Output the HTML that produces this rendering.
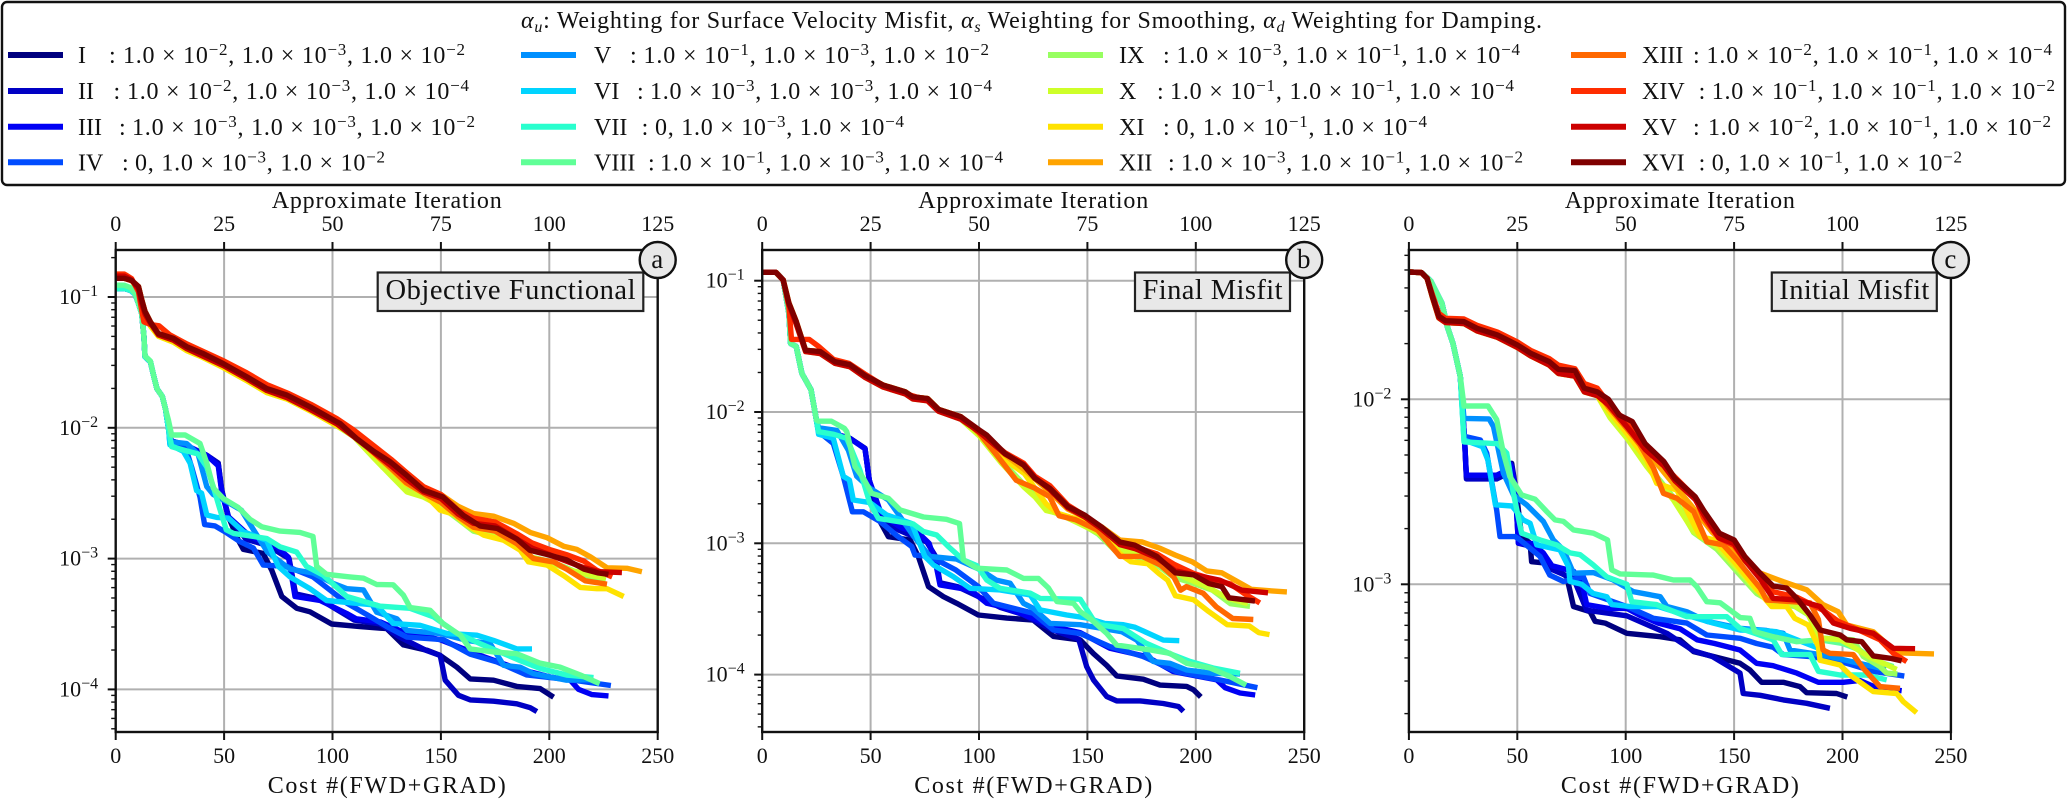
<!DOCTYPE html>
<html lang="en">
<head>
<meta charset="utf-8">
<title>Cost convergence for weighting combinations</title>
<style>
html,body{margin:0;padding:0;background:#fff;}
svg{display:block;}
text{font-family:"Liberation Serif",serif;fill:#111;}
</style>
</head>
<body>
<svg id="figure" xmlns="http://www.w3.org/2000/svg" width="2067" height="800" viewBox="0 0 2067 800"></svg>
<script>
// Tick values and labels
const costTicks = [0, 50, 100, 150, 200, 250];
const iterationTicks = [0, 25, 50, 75, 100, 125];
const romanLabels = ['I','II','III','IV','V','VI','VII','VIII','IX','X','XI','XII','XIII','XIV','XV','XVI'];
const weightLabels = [
 '1.0 × 10^{−2}, 1.0 × 10^{−3}, 1.0 × 10^{−2}','1.0 × 10^{−2}, 1.0 × 10^{−3}, 1.0 × 10^{−4}',
 '1.0 × 10^{−3}, 1.0 × 10^{−3}, 1.0 × 10^{−2}','0, 1.0 × 10^{−3}, 1.0 × 10^{−2}',
 '1.0 × 10^{−1}, 1.0 × 10^{−3}, 1.0 × 10^{−2}','1.0 × 10^{−3}, 1.0 × 10^{−3}, 1.0 × 10^{−4}',
 '0, 1.0 × 10^{−3}, 1.0 × 10^{−4}','1.0 × 10^{−1}, 1.0 × 10^{−3}, 1.0 × 10^{−4}',
 '1.0 × 10^{−3}, 1.0 × 10^{−1}, 1.0 × 10^{−4}','1.0 × 10^{−1}, 1.0 × 10^{−1}, 1.0 × 10^{−4}',
 '0, 1.0 × 10^{−1}, 1.0 × 10^{−4}','1.0 × 10^{−3}, 1.0 × 10^{−1}, 1.0 × 10^{−2}',
 '1.0 × 10^{−2}, 1.0 × 10^{−1}, 1.0 × 10^{−4}','1.0 × 10^{−1}, 1.0 × 10^{−1}, 1.0 × 10^{−2}',
 '1.0 × 10^{−2}, 1.0 × 10^{−1}, 1.0 × 10^{−2}','0, 1.0 × 10^{−1}, 1.0 × 10^{−2}'];
const seriesColors = ['#00007f','#0000c4','#0000f4','#004cff','#0090ff','#00d4ff','#29ffce','#60ff97','#97ff60','#ceff29','#ffe200','#ffa400','#ff6800','#ff2d00','#cc0000','#7f0000'];

// Each series point is [cost, log10(value)]
// ---- Panel a: Objective Functional ----
const blueHeadA = [[0,-0.935],[4,-0.935],[7,-0.95],[9,-0.98],[10.5,-1.05],[12,-1.125],[13,-1.3],[13.5,-1.457],[16,-1.495],[17.5,-1.6],[19,-1.7],[21.5,-1.76],[23,-1.86],[24.5,-2.02]];
const redHeadA = [[0,-0.857],[4,-0.857],[7.4,-0.875],[10.5,-0.92],[12,-1.02],[13.5,-1.11],[16,-1.19],[19.7,-1.28],[26.6,-1.316],[32.8,-1.38],[40,-1.43],[49.7,-1.51],[60.5,-1.61],[69.7,-1.7],[79,-1.75],[89.7,-1.84],[102,-1.954]];
const redHeadALow = [[0,-0.857],[4,-0.857],[7.4,-0.875],[10.5,-0.94],[12,-1.05],[13.5,-1.14],[16,-1.22],[19.7,-1.3],[26.6,-1.345],[32.8,-1.41],[40,-1.46],[49.7,-1.54],[60.5,-1.64],[69.7,-1.73],[79,-1.78],[89.7,-1.87],[102,-1.985]];
const aI = blueHeadA.concat([[25.5,-2.1],[29.6,-2.12],[42,-2.21],[47.3,-2.27],[48.9,-2.476],[52,-2.68],[56.6,-2.86],[58.9,-2.93],[68,-2.96],[72,-3.09],[76.6,-3.29],[83.5,-3.38],[89.6,-3.407],[99.6,-3.5],[112.7,-3.52],[125,-3.535],[132.7,-3.66],[143.5,-3.7],[149.7,-3.74],[157.4,-3.83],[163.5,-3.92],[174.3,-3.93],[185,-3.977],[195.8,-3.994],[202,-4.06]]);
const aII = blueHeadA.concat([[25.5,-2.1],[32,-2.13],[42,-2.21],[47.3,-2.27],[48.9,-2.476],[52,-2.68],[60,-2.85],[70,-2.9],[76,-2.96],[80,-3],[83,-3.27],[94,-3.31],[102,-3.39],[110,-3.47],[122,-3.5],[131,-3.6],[143,-3.7],[149.7,-3.74],[152,-3.93],[158.1,-4.045],[163.5,-4.08],[174.3,-4.09],[185,-4.11],[191.2,-4.14],[194.3,-4.17]]);
const aIII = blueHeadA.concat([[25.5,-2.1],[32,-2.13],[42,-2.21],[47.3,-2.29],[49,-2.5],[52,-2.68],[62,-2.83],[69,-2.88],[74.3,-2.91],[79.7,-2.99],[82.7,-3.29],[94.3,-3.32],[106.6,-3.42],[111,-3.46],[122,-3.484],[131,-3.55],[149.7,-3.62],[169.7,-3.75],[185,-3.84],[200.4,-3.905],[209.7,-3.93],[213.5,-4],[219.7,-4.04],[227.3,-4.05]]);
const aIV = blueHeadA.concat([[25,-2.12],[32,-2.14],[35,-2.3],[38.9,-2.53],[41,-2.74],[45.8,-2.75],[50.4,-2.795],[57.3,-2.87],[63.5,-2.92],[68.1,-3.05],[78.9,-3.06],[91,-3.14],[106.6,-3.34],[116,-3.43],[125,-3.52],[134.3,-3.6],[151.2,-3.62],[163.5,-3.73],[175.8,-3.79],[189.6,-3.89],[211.2,-3.93],[228.4,-3.97]]);
const aV = blueHeadA.concat([[25,-2.106],[32.7,-2.12],[38,-2.2],[42,-2.45],[45,-2.51],[51.2,-2.565],[58,-2.63],[62.7,-2.756],[70,-2.95],[80.4,-3.08],[91,-3.11],[100.4,-3.19],[106.6,-3.23],[114.3,-3.24],[120.4,-3.41],[129.7,-3.46],[134.3,-3.55],[149.7,-3.573],[162,-3.625],[172.7,-3.65],[178.9,-3.816],[186.6,-3.83],[192.7,-3.88],[208,-3.93],[220.4,-3.925]]);
const aVI = blueHeadA.concat([[25,-2.13],[31.2,-2.18],[34.3,-2.27],[37.3,-2.48],[39.6,-2.5],[42,-2.667],[46.6,-2.685],[52,-2.69],[58.9,-2.795],[69.6,-2.86],[75,-3.06],[80.4,-3.14],[89.6,-3.23],[97.3,-3.32],[120.4,-3.356],[128,-3.497],[140.4,-3.51],[152.7,-3.573],[166.6,-3.586],[174.3,-3.625],[185,-3.69],[192,-3.69]]);
const aVII = blueHeadA.concat([[25.8,-2.144],[31.2,-2.17],[38,-2.2],[42,-2.3],[45,-2.45],[48,-2.62],[51,-2.78],[54.3,-2.807],[69.7,-2.846],[75.8,-2.91],[83.5,-2.95],[88,-3.06],[95.8,-3.127],[106.6,-3.29],[122,-3.364],[135.8,-3.38],[146.6,-3.445],[157.4,-3.57],[168,-3.65],[186.6,-3.78],[195.8,-3.84],[208,-3.89],[220.4,-3.91]]);
const aVIII = [[0,-0.91],[4,-0.91],[7,-0.93],[9,-0.975],[10.5,-1.05],[12,-1.125],[13,-1.3],[13.5,-1.45],[16,-1.49],[17.5,-1.6],[19,-1.7],[21.5,-1.76],[23,-1.86],[24.3,-1.94],[25.8,-2.055],[32,-2.055],[38.9,-2.12],[42,-2.27],[45,-2.46],[49.6,-2.54],[56.6,-2.61],[62,-2.7],[67.3,-2.756],[75.8,-2.79],[85,-2.8],[91,-2.83],[92.7,-3.06],[97.3,-3.12],[108,-3.14],[114.3,-3.15],[120.4,-3.198],[128,-3.2],[132.7,-3.28],[135.8,-3.374],[145,-3.395],[151.2,-3.5],[158.9,-3.586],[163.5,-3.69],[174.3,-3.714],[185,-3.727],[195.8,-3.8],[205,-3.83],[214.3,-3.89],[223.2,-3.956]];
const aIX = redHeadA.concat([[110,-2.06],[119,-2.2],[126.6,-2.33],[134,-2.46],[142,-2.52],[150,-2.6],[158,-2.7],[165,-2.79],[175,-2.83],[185,-2.9],[192,-2.99],[200,-3.02],[208,-3.07],[216,-3.13],[226,-3.166]]);
const aX = redHeadALow.concat([[110,-2.07],[119,-2.23],[126.6,-2.36],[134.3,-2.49],[142,-2.53],[150,-2.6],[156,-2.66],[165,-2.76],[175,-2.8],[185,-2.88],[192,-2.99],[200,-3.03],[210,-3.09],[220,-3.13],[226,-3.15]]);
const aXI = redHeadALow.concat([[110,-2.05],[119,-2.2],[126.6,-2.31],[134,-2.43],[142,-2.5],[149.7,-2.63],[155.8,-2.66],[162,-2.745],[169.7,-2.82],[179,-2.86],[186.6,-2.936],[190.4,-3.025],[199,-3.05],[206.6,-3.13],[214.3,-3.22],[222,-3.23],[226.6,-3.23],[234.3,-3.29]]);
const aXII = redHeadA.concat([[110,-2.03],[119,-2.15],[130,-2.3],[142,-2.46],[150,-2.51],[158,-2.6],[165,-2.655],[174.3,-2.676],[183.5,-2.73],[191.2,-2.8],[199,-2.84],[206.6,-2.905],[212.7,-2.93],[219,-2.987],[226.6,-3.07],[235.8,-3.074],[242.7,-3.1]]);
const aXIII = redHeadA.concat([[110,-2.06],[119,-2.19],[127,-2.31],[134,-2.42],[142,-2.5],[150,-2.57],[158,-2.68],[165,-2.76],[175,-2.79],[185,-2.885],[192.7,-3],[202,-3.025],[208,-3.08],[216.6,-3.17],[226.6,-3.196]]);
const aXIV = [[0,-0.825],[4,-0.825],[7.4,-0.86],[10.5,-0.96],[12,-1.1],[13,-1.19],[16,-1.21],[20,-1.22],[25,-1.29],[33,-1.36],[50,-1.49],[60.5,-1.58],[69.7,-1.67],[80,-1.74],[90,-1.82],[102,-1.93],[110,-2.02],[120,-2.15],[127,-2.24],[134,-2.34],[142,-2.45],[150,-2.51],[158,-2.63],[165,-2.69],[175,-2.72],[185,-2.81],[192,-2.88],[200,-2.93],[208,-2.97],[216,-3.02],[222,-3.09],[229,-3.14]];
const aXV = [[0,-0.84],[4,-0.84],[7.4,-0.87],[10.5,-0.94],[12,-1.05],[13.5,-1.13],[16,-1.2],[19.7,-1.29],[26.6,-1.33],[32.8,-1.395],[49.7,-1.525],[60.5,-1.625],[69.7,-1.715],[79,-1.77],[89.7,-1.86],[102,-1.97],[110,-2.07],[120,-2.2],[127,-2.29],[134,-2.39],[142,-2.49],[150,-2.54],[158,-2.66],[165,-2.73],[175,-2.75],[185,-2.85],[192,-2.92],[200,-2.97],[208,-3.02],[216,-3.07],[223,-3.1],[233.5,-3.107]];
const aXVI = redHeadA.concat([[103.5,-1.967],[111,-2.08],[119,-2.18],[126.6,-2.26],[134,-2.36],[142,-2.477],[151,-2.53],[160.4,-2.67],[168,-2.75],[176,-2.77],[185,-2.85],[191,-2.936],[200.4,-2.975],[208,-3.01],[216,-3.08],[222.7,-3.11],[227.3,-3.12]]);

// ---- Panel b: Final Misfit ----
const blueHeadB = [[0,-0.936],[6.3,-0.936],[9.7,-0.995],[12.3,-1.25],[13.1,-1.478],[15.7,-1.5],[18.3,-1.706],[22.5,-1.83],[25,-2.06]];
const redHeadB = [[0,-0.936],[6.3,-0.936],[9.7,-0.995],[12.3,-1.17],[15.7,-1.31],[20,-1.53],[26.8,-1.54],[33.6,-1.617],[40.4,-1.64],[47.3,-1.72],[55.8,-1.795],[66,-1.846],[69.4,-1.884],[76.3,-1.897],[81.4,-1.98],[91.6,-2.036]];
const redHeadBLow = [[0,-0.936],[6.3,-0.936],[9.7,-0.995],[12.3,-1.18],[15.7,-1.33],[20,-1.54],[26.8,-1.555],[33.6,-1.63],[40.4,-1.655],[47.3,-1.735],[55.8,-1.81],[66,-1.862],[69.4,-1.9],[76.3,-1.915],[81.4,-1.995],[91.6,-2.055]];
const bI = blueHeadB.concat([[26,-2.15],[32,-2.16],[40.4,-2.2],[47.4,-2.277],[49.4,-2.52],[53.6,-2.81],[58.2,-2.95],[68.2,-2.975],[72,-3.1],[76.7,-3.33],[83.6,-3.406],[89.7,-3.457],[99.7,-3.546],[112.8,-3.57],[125,-3.584],[134.4,-3.71],[146.7,-3.736],[152.8,-3.84],[158.9,-3.93],[163.5,-4.01],[175.8,-4.035],[183.5,-4.08],[195.8,-4.09],[199,-4.116],[202.3,-4.17]]);
const bII = blueHeadB.concat([[26,-2.15],[32,-2.16],[40.4,-2.2],[47.4,-2.277],[49.4,-2.52],[54,-2.8],[63,-2.9],[70,-2.95],[75.9,-2.99],[80,-3.1],[82,-3.3],[90,-3.33],[99,-3.4],[110,-3.49],[120,-3.54],[134,-3.66],[146,-3.73],[149.7,-3.94],[152.8,-4.04],[158.9,-4.167],[163.5,-4.2],[174.3,-4.2],[185,-4.22],[192,-4.243],[194.3,-4.28]]);
const bIII = blueHeadB.concat([[26,-2.15],[32,-2.16],[40.4,-2.2],[47.4,-2.28],[49.4,-2.52],[55,-2.78],[64,-2.88],[72,-2.92],[77,-3],[80,-3.15],[82,-3.317],[96,-3.355],[103.6,-3.457],[109.7,-3.48],[119,-3.533],[134.4,-3.635],[146.7,-3.68],[160.4,-3.8],[177.4,-3.863],[189.7,-3.977],[209.7,-4.04],[213.5,-4.1],[220.4,-4.14],[227.4,-4.155]]);
const bIV = blueHeadB.concat([[26,-2.15],[32.8,-2.24],[37.4,-2.49],[41.6,-2.76],[46.7,-2.76],[54.4,-2.835],[62,-2.94],[69,-3.025],[70.5,-3.09],[77.4,-3.1],[89,-3.2],[99.7,-3.33],[106.7,-3.457],[125,-3.533],[134.4,-3.66],[146.6,-3.686],[160.4,-3.787],[175.8,-3.863],[191.2,-3.977],[211,-4.04],[228.4,-4.1]]);
const bV = blueHeadB.concat([[26,-2.12],[34.4,-2.14],[39.7,-2.29],[43.6,-2.49],[49.7,-2.58],[58.2,-2.67],[63.6,-2.797],[70,-2.95],[77.4,-3.1],[89.7,-3.12],[100.5,-3.2],[108,-3.28],[114.4,-3.305],[120.5,-3.457],[125,-3.495],[132.8,-3.61],[146.7,-3.62],[165.8,-3.673],[172.8,-3.737],[180.4,-3.9],[188,-3.914],[195.8,-3.965],[208,-3.99],[220.4,-3.995]]);
const bVI = blueHeadB.concat([[26,-2.17],[32.8,-2.2],[37.4,-2.49],[40.2,-2.518],[42,-2.67],[49.7,-2.69],[57.4,-2.784],[69,-2.85],[75,-3.1],[79,-3.165],[88.2,-3.254],[95.9,-3.343],[109.7,-3.355],[123.6,-3.393],[128.2,-3.507],[140.5,-3.546],[150,-3.57],[158,-3.61],[166.6,-3.62],[172,-3.64],[185,-3.737],[192.4,-3.742]]);
const bVII = blueHeadB.concat([[26,-2.15],[33,-2.17],[39,-2.2],[45,-2.44],[49.7,-2.695],[53.6,-2.81],[69.7,-2.853],[74.4,-2.91],[80.5,-2.937],[85.9,-3.025],[92.8,-3.127],[99,-3.17],[103.6,-3.28],[109.7,-3.343],[123.6,-3.38],[128.2,-3.42],[146.7,-3.426],[152.8,-3.585],[155.8,-3.62],[166.6,-3.65],[177,-3.76],[188,-3.84],[197.4,-3.9],[208,-3.95],[220.4,-3.99]]);
const bVIII = blueHeadB.concat([[26,-2.07],[31.9,-2.07],[37.9,-2.125],[39,-2.15],[42.8,-2.416],[46.7,-2.505],[50.5,-2.62],[58.2,-2.657],[63.6,-2.746],[74.4,-2.8],[85,-2.817],[91,-2.85],[92.8,-3.127],[99,-3.19],[112.8,-3.203],[120.5,-3.267],[127.4,-3.267],[132,-3.34],[136,-3.444],[143.6,-3.457],[146.7,-3.52],[151,-3.57],[158.9,-3.686],[163.5,-3.775],[177.4,-3.808],[188,-3.838],[195.8,-3.914],[206.6,-3.95],[215.8,-4.015],[223.2,-4.08]]);
const bIX = redHeadB.concat([[100,-2.17],[110.4,-2.37],[120.6,-2.55],[127,-2.64],[134,-2.76],[145,-2.83],[155,-2.93],[163,-3.06],[172,-3.1],[180,-3.14],[190,-3.26],[198,-3.3],[207.7,-3.357],[216,-3.46],[225,-3.48]]);
const bX = redHeadBLow.concat([[100,-2.18],[110.4,-2.39],[120.6,-2.57],[125.8,-2.646],[131,-2.75],[136,-2.77],[145,-2.84],[155,-2.92],[165,-3.05],[175,-3.08],[185,-3.17],[195,-3.26],[205,-3.33],[215,-3.42],[224,-3.46]]);
const bXI = redHeadB.concat([[100,-2.16],[110,-2.34],[121,-2.47],[131,-2.7],[136,-2.77],[148,-2.83],[157,-2.93],[165,-3.08],[170,-3.14],[177.8,-3.155],[183,-3.23],[187,-3.28],[190.6,-3.4],[199,-3.43],[206,-3.52],[214.5,-3.62],[224.7,-3.63],[229,-3.68],[234,-3.695]]);
const bXII = redHeadB.concat([[100,-2.14],[110,-2.3],[121,-2.44],[132,-2.6],[141,-2.74],[150,-2.81],[157,-2.88],[165,-2.976],[175.3,-2.99],[183.8,-3.04],[190.6,-3.09],[198.3,-3.14],[205,-3.21],[212,-3.225],[218,-3.28],[225.6,-3.35],[233,-3.36],[242,-3.37]]);
const bXIII = redHeadB.concat([[100,-2.16],[108.7,-2.34],[117.2,-2.52],[125.8,-2.58],[132.6,-2.646],[136.9,-2.79],[144.5,-2.82],[154.8,-2.9],[165,-3.1],[175.3,-3.1],[183.8,-3.167],[189.8,-3.255],[193,-3.357],[195.7,-3.33],[203.4,-3.38],[209.4,-3.484],[217,-3.573],[226.5,-3.58]]);
const bXIV = [[0,-0.936],[6.3,-0.936],[9.7,-0.995],[12.3,-1.2],[13.5,-1.447],[21.7,-1.447],[26,-1.5],[33,-1.6],[40,-1.63],[47.3,-1.71],[56,-1.8],[66,-1.86],[76,-1.91],[81,-1.99],[92,-2.05],[100,-2.15],[112,-2.31],[120.6,-2.39],[125.8,-2.49],[132.6,-2.56],[141,-2.71],[148.8,-2.79],[156.5,-2.88],[165,-3],[172,-3.03],[182,-3.08],[190,-3.16],[199,-3.23],[207,-3.27],[216,-3.31],[223,-3.39],[229.5,-3.454]];
const bXV = redHeadBLow.concat([[100,-2.15],[112,-2.32],[120.6,-2.4],[125.8,-2.5],[132.6,-2.59],[141,-2.73],[148.8,-2.8],[156.5,-2.89],[165,-3.01],[172,-3.04],[182,-3.11],[190.6,-3.21],[199,-3.24],[211,-3.28],[221.3,-3.357],[233.3,-3.377]]);
const bXVI = redHeadB.concat([[100.2,-2.138],[103.6,-2.176],[112,-2.316],[120.6,-2.405],[125.8,-2.506],[132.6,-2.58],[141,-2.72],[148.8,-2.786],[156.5,-2.875],[165,-2.99],[171.8,-3.014],[182,-3.1],[190.6,-3.225],[199,-3.24],[206,-3.306],[212,-3.33],[215.3,-3.415],[227.3,-3.44]]);

// ---- Panel c: Initial Misfit ----
const blueHeadC = [[0,-1.312],[5.8,-1.315],[10,-1.36],[15.2,-1.48],[17.7,-1.607],[20.3,-1.697],[23.7,-1.877]];
const redHeadC = [[0,-1.312],[5.8,-1.315],[8.4,-1.346],[10.9,-1.445],[13.8,-1.55],[16.9,-1.575],[25.4,-1.58],[31.4,-1.616],[40.8,-1.652],[50,-1.706],[56.1,-1.751],[64.7,-1.796],[68.9,-1.838],[76.6,-1.845],[80.9,-1.94],[86.9,-1.96]];
const redHeadCHigh = [[0,-1.312],[5.8,-1.315],[8.4,-1.346],[10.9,-1.435],[13.8,-1.535],[16.9,-1.562],[25.4,-1.566],[31.4,-1.6],[40.8,-1.637],[50,-1.69],[56.1,-1.735],[64.7,-1.78],[68.9,-1.815],[76.6,-1.835],[80.9,-1.915],[86.9,-1.94]];
const redHeadCLow = [[0,-1.312],[5.8,-1.315],[8.4,-1.346],[10.9,-1.45],[13.8,-1.56],[16.9,-1.585],[25.4,-1.59],[31.4,-1.63],[40.8,-1.665],[50,-1.72],[56.1,-1.765],[64.7,-1.815],[68.9,-1.86],[76.6,-1.875],[80.9,-1.96],[86.9,-1.98]];
const cI = blueHeadC.concat([[25.6,-2.2],[26.5,-2.418],[40.5,-2.418],[44,-2.4],[47.4,-2.346],[49.5,-2.5],[52,-2.74],[55.9,-2.778],[56.6,-2.878],[63.6,-2.886],[72.8,-2.958],[75.9,-3.12],[83.6,-3.148],[85.9,-3.2],[90.5,-3.21],[100.5,-3.265],[115.9,-3.283],[125,-3.3],[131.3,-3.364],[140.5,-3.39],[152.7,-3.427],[157.3,-3.463],[162.7,-3.53],[172.7,-3.53],[180.4,-3.553],[183.5,-3.586],[197.3,-3.59],[202.2,-3.61]]);
const cII = blueHeadC.concat([[25.6,-2.2],[26.5,-2.43],[40.5,-2.43],[44,-2.41],[47.4,-2.36],[49,-2.47],[50.5,-2.778],[58,-2.8],[66,-2.92],[76,-2.97],[82,-3.14],[100.5,-3.17],[119,-3.265],[131.3,-3.36],[140,-3.39],[152.7,-3.48],[154.2,-3.59],[162,-3.6],[172.7,-3.625],[183.5,-3.643],[194.2,-3.67]]);
const cIII = blueHeadC.concat([[25.6,-2.2],[26.5,-2.41],[40.5,-2.41],[44,-2.39],[47,-2.35],[49,-2.47],[50.5,-2.778],[57,-2.78],[62,-2.83],[66,-2.9],[76,-2.93],[80,-3],[82,-3.11],[92,-3.13],[100.5,-3.13],[107,-3.17],[115,-3.21],[125,-3.24],[133,-3.3],[141,-3.32],[152.7,-3.355],[160.4,-3.427],[168,-3.44],[178.9,-3.48],[188.9,-3.53],[200.4,-3.53],[208,-3.52],[215.8,-3.56],[227.3,-3.575]]);
const cIV = blueHeadC.concat([[25.4,-2.2],[33,-2.22],[35.9,-2.29],[40.5,-2.6],[42,-2.742],[49,-2.742],[51.3,-2.76],[60.5,-2.85],[65,-2.95],[71.3,-2.985],[80.5,-2.96],[83.6,-3.05],[100.5,-3.12],[112.8,-3.184],[128.2,-3.21],[137.4,-3.274],[152.8,-3.292],[160.4,-3.32],[168,-3.34],[172.7,-3.38],[185,-3.39],[200,-3.42],[214.2,-3.47],[228.5,-3.496]]);
const cV = blueHeadC.concat([[25.4,-2.103],[37,-2.106],[39,-2.148],[43.6,-2.4],[48.2,-2.517],[54.3,-2.57],[62,-2.66],[66.6,-2.76],[71.3,-2.814],[75.9,-2.94],[85.1,-2.937],[94.3,-2.977],[103.6,-3.04],[115.9,-3.067],[119,-3.12],[128.2,-3.148],[137.4,-3.2],[152.8,-3.238],[165,-3.25],[172.7,-3.265],[175.8,-3.355],[191,-3.382],[205,-3.42],[220,-3.46]]);
const cVI = blueHeadC.concat([[25.4,-2.22],[34,-2.256],[36.5,-2.33],[39.9,-2.57],[47.6,-2.577],[52.7,-2.652],[55.9,-2.67],[59,-2.787],[69.7,-2.814],[73.6,-2.905],[74.3,-2.985],[79.7,-3],[85,-3.05],[91.3,-3.067],[93.6,-3.11],[102,-3.12],[115,-3.12],[125,-3.157],[140.5,-3.21],[152.8,-3.247],[161.9,-3.25],[169.6,-3.256],[178.9,-3.3],[192,-3.36]]);
const cVII = blueHeadC.concat([[25.4,-2.23],[40.8,-2.24],[45.1,-2.29],[48.2,-2.508],[52,-2.724],[60.5,-2.76],[68.2,-2.787],[74.3,-2.83],[79,-2.84],[85,-2.895],[91.3,-2.96],[100.5,-3],[102.8,-3.094],[114.3,-3.11],[128.2,-3.175],[146.6,-3.175],[152.7,-3.238],[160.4,-3.268],[168,-3.3],[172,-3.38],[185,-3.38],[188.9,-3.47],[198.9,-3.49],[211,-3.49],[220.4,-3.517]]);
const cVIII = blueHeadC.concat([[25.4,-2.036],[36.5,-2.036],[40.5,-2.11],[43.6,-2.29],[46.6,-2.418],[52,-2.517],[58.2,-2.54],[63.6,-2.607],[67.4,-2.652],[71.3,-2.66],[75.9,-2.706],[85.1,-2.724],[91.6,-2.76],[93.6,-2.922],[97.4,-2.944],[112.8,-2.95],[122,-2.977],[129.7,-2.977],[132.8,-3.013],[137.4,-3.094],[143.6,-3.1],[152.8,-3.18],[157.3,-3.184],[159.6,-3.256],[168,-3.283],[178.9,-3.31],[189.6,-3.3],[200,-3.32],[208,-3.355],[214.2,-3.41],[223.5,-3.445]]);
const cIX = redHeadCLow.concat([[92.8,-2.09],[100.5,-2.19],[109.7,-2.35],[115.9,-2.44],[122,-2.53],[131.3,-2.72],[142,-2.81],[152.7,-2.95],[160.4,-3.05],[168,-3.1],[178,-3.12],[185,-3.17],[189.6,-3.29],[205,-3.3],[209.6,-3.39],[217.3,-3.445],[220.4,-3.48],[225.3,-3.485]]);
const cX = redHeadCLow.concat([[92.8,-2.1],[100.5,-2.21],[109.7,-2.364],[115.9,-2.454],[122,-2.544],[131.3,-2.715],[142,-2.796],[152.7,-2.93],[160,-3.03],[168,-3.1],[177,-3.11],[184,-3.16],[189.6,-3.29],[199,-3.3],[203.5,-3.328],[212,-3.39],[225,-3.46]]);
const cXI = redHeadCLow.concat([[92,-2.06],[100.5,-2.184],[109.7,-2.328],[114.3,-2.454],[123.6,-2.49],[128.2,-2.6],[134.3,-2.742],[141,-2.76],[151.3,-2.895],[160,-3.02],[167.3,-3.12],[174.2,-3.12],[178,-3.184],[184.2,-3.22],[188.9,-3.337],[189.6,-3.41],[198.9,-3.436],[203.5,-3.49],[214.2,-3.58],[225,-3.59],[228,-3.634],[234.2,-3.694]]);
const cXII = redHeadC.concat([[92,-2.02],[100,-2.14],[109,-2.27],[118,-2.4],[130,-2.57],[140,-2.72],[150,-2.82],[160,-2.93],[172.7,-2.986],[183.5,-3.03],[191,-3.11],[198,-3.148],[202,-3.22],[214.2,-3.256],[225,-3.37],[232.7,-3.373],[242.2,-3.376]]);
const cXIII = redHeadC.concat([[92,-2.04],[100,-2.15],[106.6,-2.247],[112.8,-2.373],[117.4,-2.508],[123.6,-2.535],[131.3,-2.607],[137.4,-2.77],[145,-2.787],[151.3,-2.868],[162,-3.02],[165,-3.085],[185,-3.1],[188.9,-3.19],[191,-3.355],[194.2,-3.373],[205,-3.38],[209.6,-3.454],[217.3,-3.553],[226.5,-3.562]]);
const cXIV = redHeadCHigh.concat([[92,-2.02],[100,-2.12],[109,-2.27],[117.6,-2.36],[122.7,-2.42],[132,-2.53],[136,-2.64],[143,-2.75],[150,-2.79],[155,-2.87],[162,-2.96],[168,-3.04],[179,-3.07],[191,-3.14],[198,-3.2],[208,-3.25],[217.3,-3.3],[223.5,-3.373],[229.6,-3.418]]);
const cXV = redHeadCLow.concat([[92,-2.03],[100,-2.14],[109,-2.27],[117.6,-2.36],[122.7,-2.44],[132,-2.54],[136,-2.62],[143,-2.75],[150,-2.78],[155,-2.87],[162,-2.97],[168,-3.076],[178.9,-3.085],[189.6,-3.12],[195.8,-3.21],[203.5,-3.238],[214.2,-3.265],[223.5,-3.346],[233.5,-3.348]]);
const cXVI = redHeadC.concat([[92,-2],[97,-2.085],[103,-2.12],[109,-2.24],[117.6,-2.337],[122.7,-2.427],[132,-2.526],[136.3,-2.607],[143.2,-2.724],[150,-2.76],[155,-2.85],[162,-2.94],[168,-3.01],[174.2,-3.02],[178.9,-3.076],[185,-3.166],[189.6,-3.247],[198.9,-3.274],[202,-3.3],[208.9,-3.31],[214.2,-3.387],[222,-3.4],[227.3,-3.414]]);

const seriesA = [aI,aII,aIII,aIV,aV,aVI,aVII,aVIII,aIX,aX,aXI,aXII,aXIII,aXIV,aXV,aXVI];
const seriesB = [bI,bII,bIII,bIV,bV,bVI,bVII,bVIII,bIX,bX,bXI,bXII,bXIII,bXIV,bXV,bXVI];
const seriesC = [cI,cII,cIII,cIV,cV,cVI,cVII,cVIII,cIX,cX,cXI,cXII,cXIII,cXIV,cXV,cXVI];

// ---- Drawing ----
const NS = 'http://www.w3.org/2000/svg';
const fig = document.getElementById('figure');
function make(tag, attrs, parent) {
  const el = document.createElementNS(NS, tag);
  for (const k in attrs) el.setAttribute(k, attrs[k]);
  parent.appendChild(el);
  return el;
}
// Writes "10^{-2}"-style strings as tspans with raised exponents
function fillRich(textEl, str, baseSize, supSize, rise) {
  const parts = str.split(/\^\{|\}/);
  parts.forEach(function (part, i) {
    if (!part) return;
    const isSup = i % 2 === 1;
    const span = make('tspan', {'font-size': isSup ? supSize : baseSize}, textEl);
    if (isSup) span.setAttribute('dy', -rise);
    else if (i > 0) span.setAttribute('dy', rise);
    span.textContent = part;
  });
}

// Legend frame and title
const legendGroup = make('g', {}, fig);


const legendFrame = make('rect', {x:2, y:2, width:2063, height:183, rx:5, fill:'#fff', stroke:'#111', 'stroke-width':2.4}, legendGroup);


const legendTitle = make('text', {x:521, y:28, 'font-size':24, textLength:1021, lengthAdjust:'spacing'}, legendGroup);


[['α',0],['u',1],[': Weighting for Surface Velocity Misfit, ',0],['α',0],['s',1],[' Weighting for Smoothing, ',0],['α',0],['d',1],[' Weighting for Damping.',0]].forEach(function (p, i, all) {
  const s = make('tspan', {'font-size': p[1] ? 16 : 24}, legendTitle);
  if (p[0] === 'α' || p[1]) s.setAttribute('font-style', 'italic');
  if (p[1]) s.setAttribute('dy', 4);
  else if (i > 0 && all[i-1][1]) s.setAttribute('dy', -4);
  s.textContent = p[0];
});

// Legend layout: [handleX, numeralX, colonX, valuesX, valuesEndX]
const rowHandleY = [55, 91, 126.7, 162.3];
const rowBaseline = [63, 99, 135, 170.5];
const legendLayout = [
 [8,78,109,123,465],[8,78,113.5,127,469],[8,78,119,132,475],[8,78,122,135,385],
 [521,594,630,643.5,989],[521,594,637,650,992],[521,594,641.6,655,904],[521,594,648,660,1003],
 [1048,1119,1163,1176.5,1520],[1048,1119,1157,1170,1514],[1048,1119,1163,1176.5,1427],[1048,1119,1168,1181,1523],
 [1571,1642,1693,1706.5,2052],[1571,1642,1698.6,1711.7,2055],[1571,1642,1693,1708,2051],[1571,1642,1698.6,1711.7,1962]];
romanLabels.forEach(function (roman, i) {
  const lay = legendLayout[i];
  const row = i % 4;
  const entry = make('g', {}, legendGroup);
  
  
  const handle = make('line', {x1:lay[0], x2:lay[0]+55, y1:rowHandleY[row], y2:rowHandleY[row], stroke:seriesColors[i], 'stroke-width':6}, entry);
  
  
  const t1 = make('text', {x:lay[1], y:rowBaseline[row], 'font-size':24}, entry);
  
  
  t1.textContent = roman;
  const t2 = make('text', {x:lay[2], y:rowBaseline[row], 'font-size':24}, entry);
  
  
  t2.textContent = ':';
  const t3 = make('text', {x:lay[3], y:rowBaseline[row], textLength:lay[4]-lay[3], lengthAdjust:'spacing'}, entry);
  
  
  fillRich(t3, weightLabels[i], 24, 17, 8);
});

// Panels
function drawPanel(cfg) {
  const g = make('g', {}, fig);
  
  
  const top = 250, bottom = 732, pxPerCost = 2.168;
  const right = cfg.left + 250 * pxPerCost;
  const xScale = function (cost) { return cfg.left + cost * pxPerCost; };
  const yScale = function (logValue) { return cfg.refY + (cfg.refLog - logValue) * cfg.pxPerDecade; };
  const logBottom = cfg.refLog - (bottom - cfg.refY) / cfg.pxPerDecade;
  const logTop = cfg.refLog + (cfg.refY - top) / cfg.pxPerDecade;

  // Grid
  costTicks.slice(1, -1).forEach(function (c) {
    const gl = make('line', {x1:xScale(c), x2:xScale(c), y1:top, y2:bottom, stroke:'#b0b0b0', 'stroke-width':2}, g);
    
    
  });
  cfg.decades.forEach(function (d) {
    const gl = make('line', {x1:cfg.left, x2:right, y1:yScale(d), y2:yScale(d), stroke:'#b0b0b0', 'stroke-width':2}, g);
    
    
  });

  // Series
  cfg.series.forEach(function (pts, i) {
    const line = make('polyline', {
      points: pts.map(function (p) { return xScale(p[0]).toFixed(1) + ',' + yScale(p[1]).toFixed(1); }).join(' '),
      fill:'none', stroke:seriesColors[i], 'stroke-width':5.4, 'stroke-linejoin':'round', 'stroke-linecap':'butt'
    }, g);
    
    
  });

  // Frame
  const frame = make('rect', {x:cfg.left, y:top, width:right-cfg.left, height:bottom-top, fill:'none', stroke:'#111', 'stroke-width':2.4}, g);
  
  

  // X ticks, bottom (cost) and top (iteration)
  costTicks.forEach(function (c, i) {
    const x = xScale(c);
    const tb = make('line', {x1:x, x2:x, y1:bottom, y2:bottom+8, stroke:'#111', 'stroke-width':2}, g);
    
    
    const tt = make('line', {x1:x, x2:x, y1:top-8, y2:top, stroke:'#111', 'stroke-width':2}, g);
    
    
    const lb = make('text', {x:x, y:763, 'font-size':22, 'text-anchor':'middle'}, g);
    
    
    lb.textContent = String(c);
    const lt = make('text', {x:x, y:231, 'font-size':22, 'text-anchor':'middle'}, g);
    
    
    lt.textContent = String(iterationTicks[i]);
  });

  // Y ticks (log scale) with minor ticks
  for (let d = Math.floor(logBottom); d <= Math.ceil(logTop); d++) {
    for (let m = 1; m < 10; m++) {
      const lv = d + Math.log10(m);
      if (lv < logBottom || lv > logTop) continue;
      const tick = make('line', {x1:cfg.left-(m===1?8:4.5), x2:cfg.left, y1:yScale(lv), y2:yScale(lv), stroke:'#111', 'stroke-width':m===1?2:1.4}, g);
      
      
    }
  }
  cfg.decades.forEach(function (d) {
    const lab = make('text', {x:cfg.left-17.5, y:yScale(d)+7, 'text-anchor':'end'}, g);
    
    
    fillRich(lab, '10^{−' + Math.abs(d) + '}', 22, 16, 8);
  });

  // Axis titles
  const topTitle = make('text', {x:cfg.left+271, y:208, 'font-size':24, 'text-anchor':'middle', textLength:230, lengthAdjust:'spacing'}, g);
  
  
  topTitle.textContent = 'Approximate Iteration';
  const botTitle = make('text', {x:cfg.left+271, y:793, 'font-size':24, 'text-anchor':'middle', textLength:238, lengthAdjust:'spacing'}, g);
  
  
  botTitle.textContent = 'Cost #(FWD+GRAD)';

  // Title box
  const box = make('rect', {x:cfg.boxX, y:272.5, width:cfg.boxW, height:38.5, fill:'#e8e8e8', stroke:'#222', 'stroke-width':2.2}, g);
  
  
  const boxText = make('text', {x:cfg.boxX+cfg.boxW/2, y:299, 'font-size':28.5, 'text-anchor':'middle', textLength:cfg.textW, lengthAdjust:'spacing'}, g);
  
  
  boxText.textContent = cfg.title;

  // Panel letter
  const circ = make('circle', {cx:right, cy:260, r:18, fill:'#e8e8e8', stroke:'#111', 'stroke-width':2.4}, g);
  
  
  const letter = make('text', {x:right-0.5, y:268, 'font-size':27, 'text-anchor':'middle'}, g);
  
  
  letter.textContent = cfg.id;
}

drawPanel({id:'a', title:'Objective Functional', left:115.7, refY:297, refLog:-1, pxPerDecade:130.8, decades:[-1,-2,-3,-4], series:seriesA, boxX:377.7, boxW:265.6, textW:250});
drawPanel({id:'b', title:'Final Misfit', left:762.2, refY:280.7, refLog:-1, pxPerDecade:131.3, decades:[-1,-2,-3,-4], series:seriesB, boxX:1135, boxW:155, textW:140});
drawPanel({id:'c', title:'Initial Misfit', left:1408.9, refY:399.3, refLog:-2, pxPerDecade:185, decades:[-2,-3], series:seriesC, boxX:1771.8, boxW:165, textW:150});
</script>
</body>
</html>
